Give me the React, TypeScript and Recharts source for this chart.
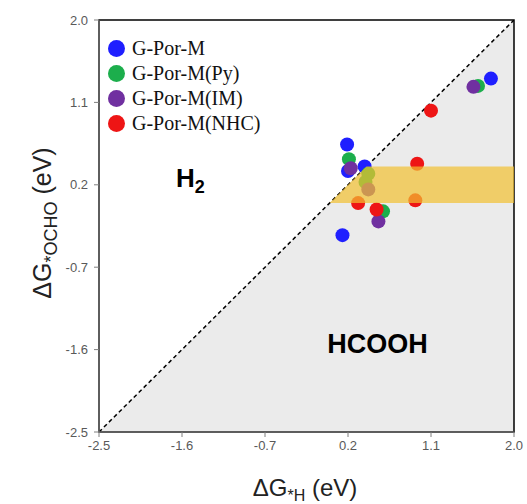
import {
  Area,
  ComposedChart,
  Label,
  Line,
  ReferenceArea,
  ReferenceDot,
  Scatter,
  XAxis,
  YAxis,
} from "recharts";

const axisTicks = [-2.5, -1.6, -0.7, 0.2, 1.1, 2.0];

const porM = [
  { x: 1.75, y: 1.36 },
  { x: 0.19, y: 0.64 },
  { x: 0.2, y: 0.35 },
  { x: 0.38, y: 0.4 },
  { x: 0.14, y: -0.35 },
];
const porMPy = [
  { x: 1.61, y: 1.28 },
  { x: 0.21, y: 0.48 },
  { x: 0.42, y: 0.32 },
  { x: 0.39, y: 0.23 },
  { x: 0.58, y: -0.09 },
];
const porMIm = [
  { x: 1.56, y: 1.27 },
  { x: 0.23, y: 0.38 },
  { x: 0.42, y: 0.15 },
  { x: 0.53, y: -0.2 },
];
const porMNhc = [
  { x: 1.1, y: 1.01 },
  { x: 0.95, y: 0.43 },
  { x: 0.93, y: 0.03 },
  { x: 0.31, y: 0.0 },
  { x: 0.51, y: -0.07 },
];

const bandLow = 0.0;
const bandHigh = 0.4;
const regionX = [-2.5, bandLow, bandHigh, 2.0];

const series = [
  { name: "G-Por-M", color: "#1f1fff", data: porM },
  { name: "G-Por-M(Py)", color: "#1cae4c", data: porMPy },
  { name: "G-Por-M(IM)", color: "#7030a0", data: porMIm },
  { name: "G-Por-M(NHC)", color: "#ee1515", data: porMNhc },
];

const regionData = regionX.map((x) => ({
  x,
  diag: x,
  band: x >= bandLow ? [bandLow, Math.min(x, bandHigh)] : null,
}));

const tickStyle = { fontSize: 13, fill: "#595959", fontFamily: "Liberation Sans, Arial, sans-serif" };

const dot = (color: string) => (props: any) => (
  <circle cx={props.cx} cy={props.cy} r={7} fill={color} />
);

// legend sits over the plot's top-left corner, outside the chart's layout
function SeriesLegend() {
  return (
    <div
      style={{
        position: "absolute",
        left: 108,
        top: 36,
        fontFamily: "Liberation Serif, Times New Roman, serif",
        fontSize: 20,
        color: "#111",
      }}
    >
      {series.map((s) => (
        <div key={s.name} style={{ display: "flex", alignItems: "center", height: 25 }}>
          <span
            style={{ width: 17, height: 17, borderRadius: 9, background: s.color, marginRight: 7, display: "inline-block" }}
          />
          {s.name}
        </div>
      ))}
    </div>
  );
}

export default function App() {
  return (
    <div style={{ position: "absolute", left: 0, top: 0, width: 527, height: 504, background: "#fff" }}>
      <ComposedChart
        width={527}
        height={504}
        data={regionData}
        margin={{ top: 20, right: 13, bottom: 0, left: 0 }}
      >
        <XAxis
          dataKey="x"
          type="number"
          domain={[-2.5, 2.0]}
          ticks={axisTicks}
          tickFormatter={(v) => v.toFixed(1)}
          tick={tickStyle}
          tickSize={5}
          tickMargin={4}
          stroke="#7f7f7f"
          height={72}
          allowDataOverflow
        >
          <Label
            content={() => (
              <text x={305} y={496} textAnchor="middle" fontFamily="Liberation Sans, Arial, sans-serif" fontSize={24} fill="#222">
                ΔG
                <tspan fontSize={16} dy={5}>*H</tspan>
                <tspan dy={-5}> (eV)</tspan>
              </text>
            )}
          />
        </XAxis>
        <YAxis
          type="number"
          domain={[-2.5, 2.0]}
          ticks={axisTicks}
          tickFormatter={(v) => v.toFixed(1)}
          tick={tickStyle}
          tickSize={5}
          tickMargin={6}
          stroke="#7f7f7f"
          width={99}
          allowDataOverflow
        >
          <Label
            content={() => (
              <text
                x={0}
                y={0}
                transform="translate(51,223) rotate(-90)"
                textAnchor="middle"
                fontFamily="Liberation Sans, Arial, sans-serif"
                fontSize={25}
                fill="#222"
              >
                ΔG
                <tspan fontSize={18} dy={6}>*OCHO</tspan>
                <tspan dy={-6}> (eV)</tspan>
              </text>
            )}
          />
        </YAxis>
        <Area
          type="linear"
          dataKey="diag"
          baseValue={-2.5}
          stroke="none"
          fill="#ebebeb"
          fillOpacity={1}
          isAnimationActive={false}
        />
        <Line
          type="linear"
          dataKey="diag"
          stroke="#000"
          strokeWidth={1.5}
          strokeDasharray="4 3"
          dot={false}
          isAnimationActive={false}
        />
        {series.map((s) => (
          <Scatter
            key={s.name}
            name={s.name}
            data={s.data}
            dataKey="y"
            fill={s.color}
            shape={dot(s.color)}
            isAnimationActive={false}
          />
        ))}
        <Area
          type="linear"
          dataKey="band"
          stroke="none"
          fill="#f2c030"
          fillOpacity={0.7}
          zIndex={700}
          isAnimationActive={false}
        />
        <ReferenceArea x1={-2.5} x2={2.0} y1={-2.5} y2={2.0} fill="none" stroke="#000" strokeWidth={1.5} />
        <ReferenceDot
          x={-1.51}
          y={0.18}
          shape={(p: any) => (
            <text x={p.cx} y={p.cy} textAnchor="middle" fontFamily="Liberation Sans, Arial, sans-serif" fontWeight="bold" fontSize={26} fill="#000">
              H<tspan fontSize={18} dy={6}>2</tspan>
            </text>
          )}
        />
        <ReferenceDot
          x={0.52}
          y={-1.64}
          shape={(p: any) => (
            <text x={p.cx} y={p.cy} textAnchor="middle" fontFamily="Liberation Sans, Arial, sans-serif" fontWeight="bold" fontSize={27} fill="#000">
              HCOOH
            </text>
          )}
        />
      </ComposedChart>
      <SeriesLegend />
    </div>
  );
}
